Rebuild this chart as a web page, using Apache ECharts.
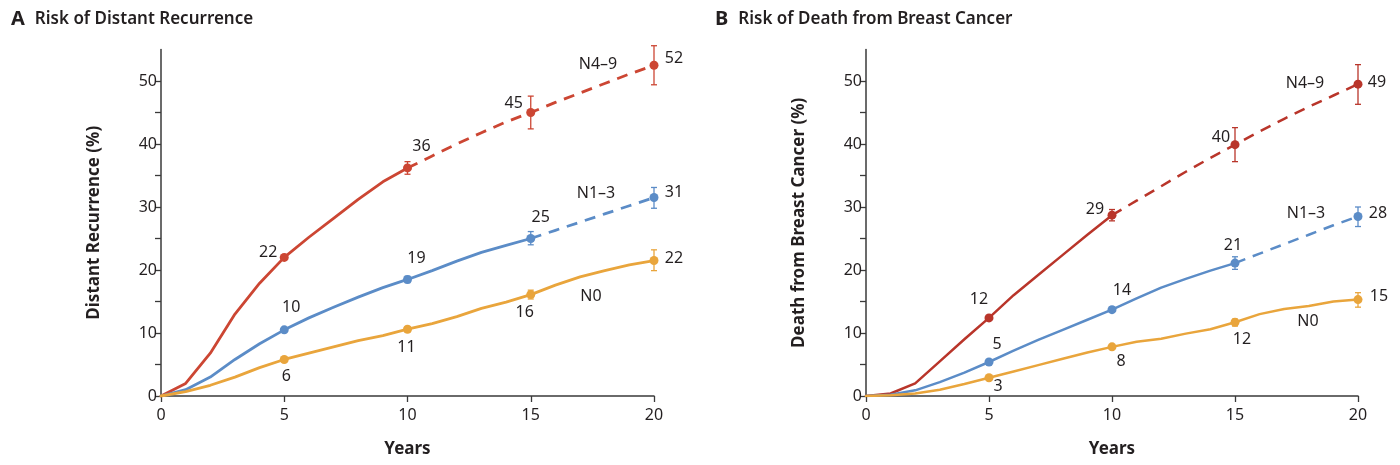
<!DOCTYPE html>
<html>
<head>
<meta charset="utf-8">
<script src="https://cdn.jsdelivr.net/npm/echarts@6/dist/echarts.min.js"></script>
<style>html,body{margin:0;padding:0;background:#fff}#c{width:1400px;height:465px}</style>
</head>
<body>
<div id="c"></div>
<script>
// ---------- data ----------
var years = [0,1,2,3,4,5,6,7,8,9,10,11,12,13,14,15,16,17,18,19,20];
var xTicks = [0,5,10,15,20];
var yTicks = [0,5,10,15,20,25,30,35,40,45,50];
var yLabels = [0,10,20,30,40,50];
var seriesNames = ['N4\u20139','N1\u20133','N0'];
var markYears = [5,10,15,20];

// Panel A: Risk of distant recurrence (%)
var recurN49 = [0,2,6.8,13,17.9,22,25.2,28.2,31.2,34,36.2,38.1,40,41.8,43.5,45,46.6,48.1,49.6,51.1,52.5];
var recurN13 = [0,1,3,5.8,8.3,10.5,12.4,14.1,15.7,17.2,18.5,19.9,21.4,22.8,23.9,25,26.3,27.6,28.9,30.2,31.5];
var recurN0  = [0,0.7,1.7,3,4.5,5.8,6.8,7.8,8.8,9.6,10.6,11.5,12.6,13.9,14.9,16.1,17.6,18.9,19.9,20.8,21.5];
var recurLabelsN49 = [22,36,45,52];
var recurLabelsN13 = [10,19,25,31];
var recurLabelsN0  = [6,11,16,22];
var recurErrN49 = [[10,35.2,37.2],[15,42.4,47.6],[20,49.4,55.6]];
var recurErrN13 = [[10,18,19],[15,24,26.1],[20,29.8,33.1]];
var recurErrN0  = [[10,10.2,11],[15,15.4,16.8],[20,19.9,23.2]];
var recurSolidEnd = [10,15,20]; // last year of solid line per series

// Panel B: Risk of death from breast cancer (%)
var deathN49 = [0,0.4,2,5.5,9,12.4,16,19.2,22.4,25.6,28.7,31,33.3,35.6,37.8,39.9,42,44,45.9,47.7,49.5];
var deathN13 = [0,0.2,0.9,2.2,3.7,5.4,7.2,8.9,10.5,12.1,13.7,15.5,17.2,18.6,19.9,21.1,22.6,24.1,25.6,27.1,28.5];
var deathN0  = [0,0.1,0.4,1,1.9,2.9,3.9,4.9,5.9,6.9,7.8,8.6,9.1,9.9,10.6,11.7,13,13.8,14.3,15,15.3];
var deathLabelsN49 = [12,29,40,49];
var deathLabelsN13 = [5,14,21,28];
var deathLabelsN0  = [3,8,12,15];
var deathErrN49 = [[10,27.8,29.6],[15,37.2,42.6],[20,46.3,52.6]];
var deathErrN13 = [[10,13.3,14.1],[15,20.1,22.1],[20,26.9,30]];
var deathErrN0  = [[10,7.5,8.1],[15,11.1,12.2],[20,14.1,16.4]];
var deathSolidEnd = [10,15,20];

// ---------- styling ----------
var FONT = '"Noto Sans", "Open Sans", sans-serif';
var TXT = '#231f20';
var colorsA = ['#cc4633','#5b8cc7','#e9a53c'];
var colorsB = ['#b9352a','#5b8cc7','#e9a53c'];

// label offsets (dx, dy of text centre relative to point) per panel/series/year-index
var offA = [
  [[-16,-5],[14,-22],[-17,-9],[20,-7]],
  [[7,-22],[9,-21],[10,-21],[20,-5]],
  [[2,17],[-1,18],[-6,18],[20,-2]]
];
var offB = [
  [[-10,-18],[-17,-6],[-14,-7],[19,-2]],
  [[8,-18],[10,-19],[-2,-18],[20,-3]],
  [[9,9],[9,15],[7,17],[21,-3]]
];
var nameOffA = [[-56,-1],[-58,-4],[-63,36]];
var nameOffB = [[-53,-1],[-52,-3],[-50,22]];

function pairs(vals, from, to) {
  var out = [];
  for (var i = 0; i < years.length; i++) {
    if (years[i] >= from && years[i] <= to) out.push([years[i], vals[i]]);
  }
  return out;
}

function errSeries(data, color, gi) {
  return {
    type: 'custom', xAxisIndex: gi, yAxisIndex: gi, z: 4, silent: true,
    data: data,
    renderItem: function (params, api) {
      var x = api.value(0), lo = api.value(1), hi = api.value(2);
      var p1 = api.coord([x, lo]), p2 = api.coord([x, hi]);
      var w = 3;
      var st = { stroke: color, lineWidth: 1.3 };
      return { type: 'group', children: [
        { type: 'line', shape: { x1: p1[0], y1: p1[1], x2: p2[0], y2: p2[1] }, style: st },
        { type: 'line', shape: { x1: p1[0]-w, y1: p1[1], x2: p1[0]+w, y2: p1[1] }, style: st },
        { type: 'line', shape: { x1: p2[0]-w, y1: p2[1], x2: p2[0]+w, y2: p2[1] }, style: st }
      ]};
    }
  };
}

// text annotations anchored at a data point, offset in pixels
function textSeries(gi, items) {
  return {
    type: 'custom', xAxisIndex: gi, yAxisIndex: gi, z: 7, silent: true,
    data: items.map(function (it) { return [it.x, it.y]; }),
    renderItem: function (params, api) {
      var it = items[params.dataIndex];
      var p = api.coord([api.value(0), api.value(1)]);
      return {
        type: 'text', x: p[0] + it.off[0], y: p[1] + it.off[1],
        style: { text: it.text, fill: TXT, font: '16px ' + FONT, align: 'center', verticalAlign: 'middle' }
      };
    }
  };
}

function panelSeries(gi, valsList, labelsList, errList, solidEnd, colors, offs, nameOffs, lw) {
  var out = [];
  var texts = [];
  valsList.forEach(function (vals, si) {
    var c = colors[si];
    out.push({
      type: 'line', xAxisIndex: gi, yAxisIndex: gi, data: pairs(vals, 0, solidEnd[si]),
      showSymbol: false, symbol: 'none', silent: true, z: 2,
      lineStyle: { color: c, width: lw, type: 'solid', cap: 'round', join: 'round' }
    });
    if (solidEnd[si] < 20) {
      out.push({
        type: 'line', xAxisIndex: gi, yAxisIndex: gi, data: pairs(vals, solidEnd[si], 20),
        showSymbol: false, symbol: 'none', silent: true, z: 2,
        lineStyle: { color: c, width: lw, type: [11, 8], cap: 'butt' }
      });
    }
    out.push(errSeries(errList[si], c, gi));
    out.push({
      type: 'scatter', xAxisIndex: gi, yAxisIndex: gi, symbolSize: 9, z: 5, silent: true,
      itemStyle: { color: c, opacity: 1 },
      data: markYears.map(function (y) { return [y, vals[years.indexOf(y)]]; })
    });
    markYears.forEach(function (y, k) {
      texts.push({ x: y, y: vals[years.indexOf(y)], off: offs[si][k], text: String(labelsList[si][k]) });
    });
    texts.push({ x: 20, y: vals[years.indexOf(20)], off: nameOffs[si], text: seriesNames[si] });
  });
  out.push(textSeries(gi, texts));
  return out;
}

function xAx(gi) {
  return {
    type: 'value', gridIndex: gi, min: 0, max: 20, interval: 5,
    name: 'Years', nameLocation: 'middle', nameGap: 45,
    nameTextStyle: { fontFamily: FONT, fontWeight: 'bold', fontSize: 17, color: TXT },
    axisLine: { show: true, lineStyle: { color: '#3a3a3a', width: 1.5 } },
    axisTick: { show: true, length: 6, inside: false, lineStyle: { color: '#3a3a3a', width: 1.3 }, customValues: xTicks },
    axisLabel: { fontFamily: FONT, fontSize: 16, color: TXT, margin: 11, customValues: xTicks },
    splitLine: { show: false }
  };
}
function yAx(gi, name) {
  return {
    type: 'value', gridIndex: gi, min: 0, max: 55,
    name: name, nameLocation: 'middle', nameGap: 58,
    nameTextStyle: { fontFamily: FONT, fontWeight: 'bold', fontSize: 17, color: TXT },
    axisLine: { show: true, lineStyle: { color: '#3a3a3a', width: 1.5 } },
    axisTick: { show: true, length: 6, lineStyle: { color: '#3a3a3a', width: 1.3 }, customValues: yTicks },
    axisLabel: { fontFamily: FONT, fontSize: 16, color: TXT, margin: 4, customValues: yLabels },
    splitLine: { show: false }
  };
}

var series = []
  .concat(panelSeries(0, [recurN49, recurN13, recurN0], [recurLabelsN49, recurLabelsN13, recurLabelsN0],
    [recurErrN49, recurErrN13, recurErrN0], recurSolidEnd, colorsA, offA, nameOffA, 2.8))
  .concat(panelSeries(1, [deathN49, deathN13, deathN0], [deathLabelsN49, deathLabelsN13, deathLabelsN0],
    [deathErrN49, deathErrN13, deathErrN0], deathSolidEnd, colorsB, offB, nameOffB, 2.5));

var titleRich = {
  a: { fontFamily: FONT, fontWeight: 'bold', fontSize: 20, color: TXT, padding: [0, 10, 0, 0] },
  t: { fontFamily: FONT, fontWeight: 600, fontSize: 17, color: TXT }
};

var chart = echarts.init(document.getElementById('c'), null, { renderer: 'canvas' });
chart.setOption({
  animation: false,
  backgroundColor: '#ffffff',
  title: [
    { left: 6, top: 4, text: '{a|A}{t|Risk of Distant Recurrence}', textStyle: { rich: titleRich } },
    { left: 710, top: 4, text: '{a|B}{t|Risk of Death from Breast Cancer}', textStyle: { rich: titleRich } }
  ],
  grid: [
    { left: 161, width: 493, top: 49.5, bottom: 69, containLabel: false },
    { left: 866, width: 492, top: 49.5, bottom: 69, containLabel: false }
  ],
  xAxis: [xAx(0), xAx(1)],
  yAxis: [yAx(0, 'Distant Recurrence (%)'), yAx(1, 'Death from Breast Cancer (%)')],
  series: series
});
</script>
</body>
</html>
